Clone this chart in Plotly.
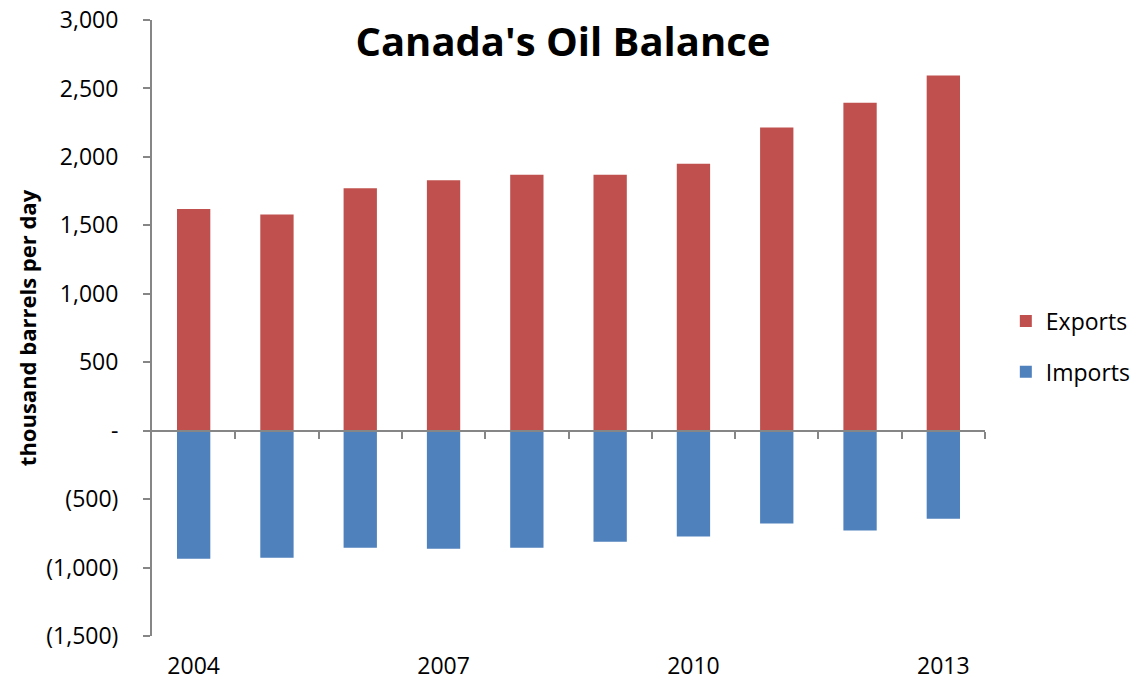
import plotly.graph_objects as go

years = [2004, 2005, 2006, 2007, 2008, 2009, 2010, 2011, 2012, 2013]
exports = [1620, 1580, 1770, 1830, 1870, 1870, 1950, 2215, 2395, 2595]
imports = [-935, -928, -855, -862, -855, -811, -774, -679, -730, -643]

y_tickvals = [3000, 2500, 2000, 1500, 1000, 500, 0, -500, -1000, -1500]
y_ticktext = ["3,000", "2,500", "2,000", "1,500", "1,000", "500", "-", "(500)", "(1,000)", "(1,500)"]
x_labels = [2004, 2007, 2010, 2013]

FONT = "Open Sans, Liberation Sans, sans-serif"
AXC = "#868686"

fig = go.Figure()
fig.add_trace(go.Bar(x=years, y=exports, name="Exports", marker_color="#C0504D",
                     marker_line_width=0, legendgroup="e"))
fig.add_trace(go.Bar(x=years, y=imports, name="Imports", marker_color="#4F81BD",
                     marker_line_width=0, legendgroup="i"))
# invisible trace on xaxis2 to draw category-boundary ticks along zero line
fig.add_trace(go.Scatter(x=[years[0]], y=[0], xaxis="x2", mode="markers",
                         marker_opacity=0, showlegend=False, hoverinfo="skip"))

ymin, ymax = -1500, 3000
fig.update_layout(
    width=1135, height=683,
    margin=dict(l=152, r=150, t=20, b=47, autoexpand=False),
    paper_bgcolor="white", plot_bgcolor="white",
    barmode="relative", bargap=0.6,
    font=dict(family=FONT, size=23, color="black"),
    title=dict(text="<b>Canada's Oil Balance</b>", x=0.496, xanchor="center",
               y=0.938, yanchor="middle", font=dict(size=40, family=FONT)),
    xaxis=dict(range=[years[0] - 0.5, years[-1] + 0.5], tickvals=x_labels,
               ticktext=[str(v) for v in x_labels], showline=False, showgrid=False,
               zeroline=False, ticks="", ticklabelstandoff=14, automargin=False,
               tickfont=dict(size=23)),
    xaxis2=dict(overlaying="x", anchor="free", position=(0 - ymin) / (ymax - ymin),
                range=[years[0] - 0.5, years[-1] + 0.5],
                tickvals=[y + 0.5 for y in years], showticklabels=False,
                showline=True, linecolor=AXC, linewidth=2, automargin=False,
                ticks="outside", ticklen=7, tickcolor=AXC, tickwidth=2,
                showgrid=False, zeroline=False, side="bottom"),
    yaxis=dict(range=[ymin, ymax], tickvals=y_tickvals, ticktext=y_ticktext,
               showline=True, linecolor=AXC, linewidth=2, ticks="outside",
               ticklen=7, tickcolor=AXC, tickwidth=2, showgrid=False,
               zeroline=False, tickfont=dict(size=23), automargin=False,
               ticklabelstandoff=20,
               title=dict(text="<b>thousand barrels per day</b>",
                          font=dict(size=22), standoff=4)),
    legend=dict(x=1.025, y=0.47, xanchor="left", yanchor="middle",
                font=dict(size=23), tracegroupgap=18, traceorder="grouped",
                itemwidth=30, bgcolor="rgba(0,0,0,0)"),
)

fig.write_html("out.html")
